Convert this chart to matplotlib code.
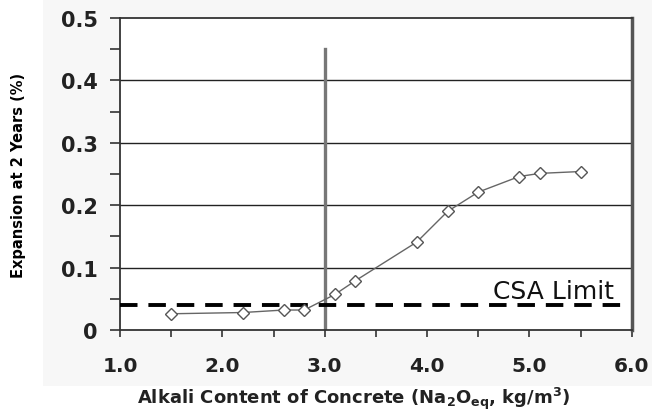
import matplotlib
matplotlib.use("Agg")
import matplotlib.pyplot as plt
from matplotlib.patches import Rectangle
from matplotlib.ticker import MultipleLocator, FixedLocator

plt.rcParams['font.family'] = ['DejaVu Sans']
plt.rcParams['mathtext.default'] = 'bf'

# ---------- data
alkali = [1.5, 2.2, 2.6, 2.8, 3.1, 3.3, 3.9, 4.2, 4.5, 4.9, 5.1, 5.5]
expansion = [0.026, 0.028, 0.032, 0.032, 0.057, 0.079, 0.141, 0.19, 0.221, 0.246, 0.251, 0.254]
csa_limit = 0.04
threshold_x = 3.0
threshold_top = 0.45
x_ticks = [1.0, 2.0, 3.0, 4.0, 5.0, 6.0]
x_labels = ['1.0', '2.0', '3.0', '4.0', '5.0', '6.0']
y_ticks = [0, 0.1, 0.2, 0.3, 0.4, 0.5]
y_labels = ['0', '0.1', '0.2', '0.3', '0.4', '0.5']

fig = plt.figure(figsize=(6.52, 4.14), dpi=100)
fig.patch.set_facecolor('white')
# faint gray chart panel behind the plot
panel = Rectangle((0.066, 0.065), 0.934, 0.935, transform=fig.transFigure,
                  facecolor='#f7f7f7', edgecolor='none', zorder=-5)
fig.add_artist(panel)

ax = fig.add_axes([0.184, 0.2005, 0.785, 0.7535])
ax.set_facecolor('white')
ax.set_xlim(1.0, 6.0)
ax.set_ylim(0, 0.5)

# horizontal gridlines
for yv in y_ticks[1:-1]:
    ax.axhline(yv, color='#222222', lw=1.0, zorder=1)

# threshold line at 3.0
ax.plot([threshold_x, threshold_x], [0, threshold_top], color='#777777', lw=2.4, zorder=2)

# CSA limit
ax.plot([1.0, 5.95], [csa_limit, csa_limit], color='black', lw=2.8,
        dashes=(4.5, 2.8), zorder=3)
ax.text(5.83, csa_limit + 0.003, 'CSA Limit', fontsize=18, ha='right', va='bottom',
        color='#111111', zorder=4)

# data
ax.plot(alkali, expansion, color='#666666', lw=1.0, marker='D', markersize=6.5,
        markerfacecolor='white', markeredgecolor='#555555', markeredgewidth=1.0, zorder=5)

ax.xaxis.set_major_locator(FixedLocator(x_ticks))
ax.set_xticklabels(x_labels, fontweight='bold')
ax.xaxis.set_minor_locator(MultipleLocator(0.5))
ax.yaxis.set_major_locator(FixedLocator(y_ticks))
ax.set_yticklabels(y_labels, fontweight='bold')
ax.yaxis.set_minor_locator(MultipleLocator(0.05))

ax.tick_params(axis='x', which='both', direction='out', length=5, width=1.2,
               color='#333333', labelsize=14.5, labelcolor='#222222', pad=14)
ax.tick_params(axis='y', which='both', direction='out', length=7, width=1.2,
               color='#333333', labelsize=15, labelcolor='#222222', pad=9)

for s in ['left', 'bottom', 'top']:
    ax.spines[s].set_color('#333333')
    ax.spines[s].set_linewidth(1.3)
ax.spines['right'].set_color('#555555')
ax.spines['right'].set_linewidth(2.5)

ax.set_ylabel('Expansion at 2 Years (%)', fontsize=10.5, fontweight='bold', labelpad=25)
ax.set_xlabel(r'Alkali Content of Concrete (Na$_2$O$_{eq}$, kg/m$^3$)', fontsize=13,
              fontweight='bold', color='#222222')
ax.xaxis.set_label_coords(0.457, -0.175)

fig.savefig('out.png', dpi=100)
